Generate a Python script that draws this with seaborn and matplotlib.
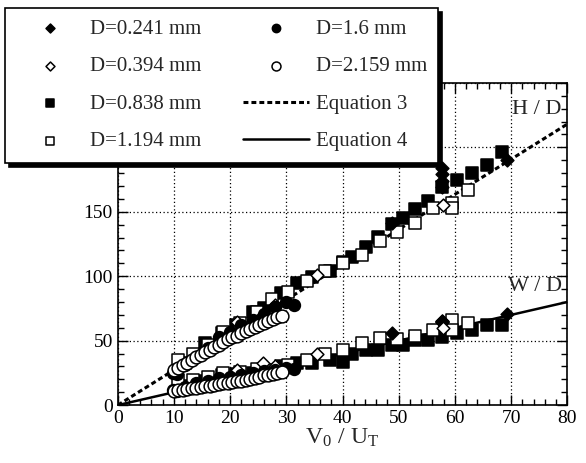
import numpy as np
import matplotlib
matplotlib.use("Agg")
import matplotlib.pyplot as plt
import seaborn as sns

# --- data (V0/UT, H/D and W/D) ---
# D = 0.241 mm (filled diamond)
v_241 = [48.8, 57.7, 57.7, 57.7, 57.7, 69.3]
h_241 = [141, 169, 174, 179, 184, 190]
w_241 = [56, 64.5, 64.5, 65, 65, 70.7]

# D = 0.394 mm (open diamond)
v_394 = [21.2, 25.8, 28.0, 35.5, 57.9]
h_394 = [64.5, 70, 78, 101, 155]
w_394 = [27, 32.6, 30, 40, 60]

# D = 0.838 mm (filled square)
v_838 = [12, 15.5, 18.5, 21, 24, 26, 29, 31.9, 34.6, 37.8, 40.1, 41.7,
         44.2, 46.3, 48.8, 50.8, 52.9, 55.3, 57.7, 60.4, 63.1, 65.8, 68.4]
h_838 = [33, 48, 56, 62, 72, 75, 87, 95, 99.5, 104, 111, 115,
         123, 130.5, 140.6, 145, 152, 158.5, 169, 175, 180, 186.5, 196.6]
w_838 = [15, 19, 23, 24, 25, 27, 30, 32.6, 33, 35, 33.4, 40,
         42.7, 42.7, 46.6, 46.6, 50.5, 50.5, 53, 56, 58, 62, 62]

# D = 1.194 mm (open square)
v_1194 = [10.7, 13.4, 16, 18.7, 21.7, 24.8, 27.5, 30.3, 33.7, 36.9, 40.1,
          43.5, 46.7, 49.7, 52.9, 56.1, 59.5, 59.5, 62.4]
h_1194 = [35, 40, 47, 57, 64, 72, 82, 88, 96, 104, 110,
          116.5, 127, 134, 141, 153, 157, 153, 167]
w_1194 = [19.4, 19.4, 22, 25, 25.6, 28, 27, 31, 35, 40, 42.7,
          48, 52, 51, 54, 58, 66, 58, 63.7]

# D = 1.6 mm (filled circle)
v_16 = [9.8, 10.5, 12, 14, 16, 18, 20, 22, 24, 26, 28, 30, 31.3]
h_16 = [25, 24, 31, 37, 44, 53, 57, 62, 66, 71, 76, 80, 78]
w_16 = [12, 11, 14, 17, 19, 21, 22, 23.5, 25, 26.5, 27.5, 29, 28]

# D = 2.159 mm (open circle)
v_2159 = [10, 10.8, 11.6, 12.4, 13.2, 14, 14.8, 15.6, 16.4, 17.2, 18, 18.8,
          19.6, 20.4, 21.2, 22, 22.8, 23.6, 24.4, 25.2, 26, 26.8, 27.6, 28.4, 29.2]
h_2159 = [27, 29, 31, 33, 35, 37, 39, 41, 43, 45, 47, 49,
          51, 52.5, 54, 56, 57.5, 59, 60.5, 62, 63.5, 65, 66.5, 68, 69.5]
w_2159 = [11, 11.5, 12, 12.5, 13, 13.5, 14, 14.5, 15, 16, 16.5, 17,
          17.5, 18, 18.5, 19, 19.5, 20, 21, 22, 23, 23.5, 24.5, 25, 26]

# equation lines (end points)
eq_v = [0, 80]
eq3_h = [0, 218]
eq4_w = [0, 80]

x_ticks = [0, 10, 20, 30, 40, 50, 60, 70, 80]
y_ticks = [0, 50, 100, 150, 200, 250]
y_ticklabels = ["0", "50", "100", "150", "", ""]  # top two hidden behind legend

sns.set_style("ticks")
plt.rcParams["font.family"] = ["Liberation Serif", "DejaVu Serif"]
plt.rcParams["mathtext.fontset"] = "stix"

fig = plt.figure(figsize=(5.86, 4.63), dpi=100)
ax = fig.add_axes([0.201, 0.125, 0.767, 0.696])

sns.lineplot(x=eq_v, y=eq3_h, ax=ax, color="black", lw=2.2,
             linestyle=(0, (1.6, 1.0)), label="Equation 3", zorder=3)
sns.lineplot(x=eq_v, y=eq4_w, ax=ax, color="black", lw=1.8,
             label="Equation 4", zorder=3)

series = [
    ("D=0.838 mm", v_838, h_838, w_838, "s", "black", 8),
    ("D=1.194 mm", v_1194, h_1194, w_1194, "s", "white", 8),
    ("D=0.241 mm", v_241, h_241, w_241, "D", "black", 6.5),
    ("D=0.394 mm", v_394, h_394, w_394, "D", "white", 6.5),
    ("D=1.6 mm", v_16, h_16, w_16, "o", "black", 8.5),
    ("D=2.159 mm", v_2159, h_2159, w_2159, "o", "white", 9.2),
]
for i, (lab, v, h, w, m, fc, ms) in enumerate(series):
    sns.scatterplot(x=v + v, y=h + w, ax=ax, marker=m, s=ms ** 2,
                    facecolor=fc, edgecolor="black", linewidth=1.1,
                    label=lab, zorder=4 + i)

ax.set_xlim(0, 80)
ax.set_ylim(0, 250)
ax.set_xticks(x_ticks)
ax.set_yticks(y_ticks)
ax.set_yticklabels(y_ticklabels)
ax.set_xticks(np.arange(0, 81, 2), minor=True)
ax.set_yticks(np.arange(0, 251, 10), minor=True)
ax.tick_params(which="both", direction="in", top=True, right=True,
               labelsize=14, width=1, colors="black")
ax.tick_params(which="major", length=7)
ax.tick_params(which="minor", length=4)
ax.grid(True, which="major", color="black", linestyle=(0, (1, 2)), lw=0.9)
for s in ax.spines.values():
    s.set_linewidth(1.2)
    s.set_color("black")

ax.set_xlabel(r"V$_\mathregular{0}$ / U$_\mathregular{T}$", fontsize=17, labelpad=0)
ax.set_ylabel("")

ax.text(79, 229, "H / D", fontsize=16, ha="right", va="center")
ax.text(79, 92, "W / D", fontsize=16, ha="right", va="center")

handles, labels = ax.get_legend_handles_labels()
lookup = dict(zip(labels, handles))
order = ["D=0.241 mm", "D=0.394 mm", "D=0.838 mm", "D=1.194 mm",
         "D=1.6 mm", "D=2.159 mm", "Equation 3", "Equation 4"]
ax.get_legend().remove()
leg = fig.legend([lookup[k] for k in order], order, ncol=2, loc="upper left",
                 bbox_to_anchor=(0.009, 0.983), borderaxespad=0,
                 fontsize=15, frameon=True, fancybox=False, edgecolor="black",
                 framealpha=1, markerscale=0.7, handlelength=3.2,
                 handletextpad=0.3, columnspacing=2.0, labelspacing=0.86,
                 borderpad=0.55,
                 shadow={"color": "black", "alpha": 1, "ox": 3, "oy": -3})
leg.get_frame().set_linewidth(1.2)
leg.set_zorder(20)

fig.savefig("out.png", dpi=100)
